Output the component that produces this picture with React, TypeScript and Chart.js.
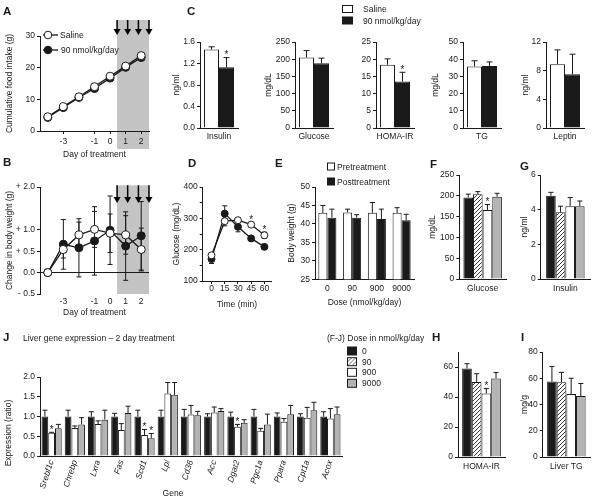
import React, { useEffect, useRef } from 'react';
import { Chart, registerables } from 'chart.js';
Chart.register(...registerables);

const FONT = "'Liberation Sans', Arial, Helvetica, sans-serif";
const FS = 8.5;
const INK = '#1a1a1a';
const GRAY = '#b4b4b4';
const SHADE = '#c4c4c4';

// ---------------- Panel A: cumulative food intake ----------------
const daysAB = [-4, -3, -2, -1, 0, 1, 2];
const dayTicks = [-3, -1, 0, 1, 2];
const doseTimes = [0.45, 1.13, 1.82, 2.5];
const treatmentWindow = [0.45, 2.5];
const foodSaline = [4.5, 7.7, 10.8, 14.0, 17.3, 20.5, 23.8];
const foodSalineErr = [0.3, 0.3, 0.4, 0.5, 0.5, 0.6, 0.6];
const food90 = [4.3, 7.4, 10.6, 13.4, 16.7, 20.1, 23.2];
const food90Err = [0.3, 0.3, 0.4, 0.5, 0.6, 0.6, 0.7];
const foodTicks = [0, 10, 20, 30];

// ---------------- Panel B: change in body weight ----------------
const bwSaline = [0, 0.54, 0.88, 1.01, 0.92, 0.88, 0.54];
const bwSalineErr = [0, 0.2, 0.3, 0.42, 0.45, 0.45, 0.5];
const bw90 = [0, 0.66, 0.58, 0.74, 0.99, 0.62, 0.86];
const bw90Err = [0, 0.58, 0.68, 0.8, 0.8, 0.8, 0.8];
const bwTicks = [-0.5, 0, 0.5, 1, 2];
const bwTickLabels = ['- 0.5', '0.0', '+ 0.5', '+ 1.0', '+ 2.0'];

// ---------------- Panel C: plasma parameters ----------------
const cMeasures = ['Insulin', 'Glucose', 'HOMA-IR', 'TG', 'Leptin'];
const cUnits = ['ng/ml', 'mg/dL', '', 'mg/dL', 'ng/ml'];
const cSaline = [1.46, 205, 18.4, 35.8, 8.9];
const cSalineErr = [0.05, 20, 1.7, 3.3, 2.0];
const cDose = [1.13, 188, 13.5, 36.1, 7.5];
const cDoseErr = [0.18, 15, 2.7, 2.3, 2.8];
const cDoseStar = [true, false, true, false, false];
const cTicks = [
  [0, 0.4, 0.8, 1.2, 1.6],
  [0, 50, 100, 150, 200, 250],
  [0, 5, 10, 15, 20, 25],
  [0, 10, 20, 30, 40, 50],
  [0, 4, 8, 12],
];

// ---------------- Panel D: glucose tolerance ----------------
const ogttTime = [0, 15, 30, 45, 60];
const ogttSaline = [182, 291, 294, 280, 246];
const ogttSalineErr = [8, 15, 8, 7, 10];
const ogttSalineStar = [false, false, false, true, true];
const ogttDose = [170, 315, 273, 236, 209];
const ogttDoseErr = [14, 25, 16, 6, 6];
const ogttXTicks = [0, 15, 30, 45, 60];
const ogttYTicks = [100, 150, 200, 250, 300, 350, 400];

// ---------------- Panel E: body weight ----------------
const doseGroups = ['0', '90', '900', '9000'];
const bwPre = [43.0, 43.1, 43.0, 43.0];
const bwPreErr = [2.0, 0.9, 2.8, 1.4];
const bwPost = [41.7, 41.7, 41.3, 41.0];
const bwPostErr = [2.3, 0.8, 2.7, 1.6];
const bwETicks = [25, 30, 35, 40, 45, 50];

// ---------------- Panels F-I: dose response ----------------
const fjDoses = ['0', '90', '900', '9000'];
const fGlucose = [196, 204, 166, 198];
const fGlucoseErr = [8, 6, 13, 8];
const fGlucoseStar = [false, false, true, false];
const fTicks = [0, 50, 100, 150, 200, 250];
const gInsulin = [4.8, 3.85, 4.2, 4.2];
const gInsulinErr = [0.2, 0.35, 0.5, 0.3];
const gTicks = [0, 2, 4, 6];
const hHoma = [59, 50, 42.3, 52.3];
const hHomaErr = [3.2, 5.5, 3.3, 4];
const hHomaStar = [false, false, true, false];
const hTicks = [0, 20, 40, 60];
const iLiverTG = [57.5, 57, 48, 46.5];
const iLiverTGErr = [11.5, 7.5, 12, 9.5];
const iTicks = [0, 20, 40, 60, 80];

// ---------------- Panel J: liver gene expression ----------------
const genes = ['Srebf1c', 'Chrebp', 'Lxra', 'Fas', 'Scd1', 'Lpl', 'Cd36', 'Acc', 'Dgat2', 'Pgc1a', 'Ppara', 'Cpt1a', 'Acox'];
const j0 = [1, 1, 1, 1, 1, 1, 1, 1, 1, 1, 1, 1, 1];
const j0Err = [0.16, 0.16, 0.12, 0.08, 0.16, 0.16, 0.18, 0.07, 0.11, 0.18, 0.09, 0.07, 0.12];
const j900 = [0.59, 0.71, 0.81, 0.66, 0.53, 1.58, 1.05, 1.1, 0.74, 0.64, 0.87, 0.97, 0.95];
const j900Err = [0.01, 0.05, 0.08, 0.16, 0.14, 0.28, 0.23, 0.14, 0.06, 0.06, 0.08, 0.26, 0.25];
const j900Star = [true, false, false, false, true, false, false, false, true, false, false, false, false];
const j9000 = [0.7, 0.8, 0.92, 1.09, 0.45, 1.55, 1.03, 1.14, 0.84, 0.8, 1.06, 1.16, 1.06];
const j9000Err = [0.1, 0.17, 0.24, 0.17, 0.12, 0.31, 0.1, 0.06, 0.08, 0.26, 0.22, 0.2, 0.18];
const j9000Star = [false, false, false, false, true, false, false, false, false, false, false, false, false];
const jTicks = [0, 0.5, 1, 1.5, 2];

// ---------------- helpers ----------------
const F = { family: FONT, size: FS };
type G = { x0: number; x1: number; y0: number; y1: number; L: number; R: number; T: number; B: number };

function boxOf(g: G) {
  return {
    left: g.x0 - g.L,
    top: g.y0 - g.T,
    w: Math.round(g.L + (g.x1 - g.x0) + g.R),
    h: Math.round(g.T + (g.y1 - g.y0) + g.B),
  };
}

function hatch(ctx: CanvasRenderingContext2D) {
  const c = document.createElement('canvas');
  c.width = 4; c.height = 4;
  const g = c.getContext('2d')!;
  g.fillStyle = '#fff'; g.fillRect(0, 0, 4, 4);
  g.strokeStyle = '#222'; g.lineWidth = 0.9;
  g.beginPath();
  g.moveTo(0, 4); g.lineTo(4, 0);
  g.moveTo(-1, 1); g.lineTo(1, -1);
  g.moveTo(3, 5); g.lineTo(5, 3);
  g.stroke();
  return ctx.createPattern(c, 'repeat');
}

function yLin(g: G, min: number, max: number, ticks: number[], fmt: (v: number) => string, title?: string) {
  return {
    type: 'linear', position: 'left', min, max,
    afterBuildTicks: (s: any) => { s.ticks = ticks.map((v) => ({ value: v })); },
    afterFit: (s: any) => { s.width = g.L; s.paddingTop = 0; s.paddingBottom = 0; },
    ticks: { color: INK, font: F, padding: 2, callback: (v: any) => fmt(Number(v)) },
    grid: { drawOnChartArea: false, drawTicks: true, tickLength: 3, color: INK, tickColor: INK },
    border: { display: true, color: INK, width: 1 },
    title: title
      ? { display: true, text: title, color: INK, font: F, padding: { top: 5, bottom: 0 } }
      : { display: false },
  };
}

function xTitle(text?: string) {
  return text
    ? { display: true, text, color: INK, font: F, padding: { top: 0, bottom: 5 } }
    : { display: false };
}

function xLin(g: G, min: number, max: number, ticks: number[], o: any) {
  return {
    type: 'linear', min, max,
    afterBuildTicks: (s: any) => { s.ticks = ticks.map((v) => ({ value: v })); },
    afterFit: (s: any) => { s.height = g.B; s.paddingLeft = 0; s.paddingRight = 0; },
    ticks: { color: INK, font: F, padding: o.pad, callback: (v: any) => String(v) },
    grid: { drawOnChartArea: false, drawTicks: o.tickLen > 0, tickLength: o.tickLen || 0, color: INK },
    border: { display: o.border !== false, color: INK, width: 1 },
    title: xTitle(o.title),
  };
}

function xCat(g: G, o: any) {
  return {
    type: 'category', offset: true,
    afterFit: (s: any) => { s.height = g.B; s.paddingLeft = 0; s.paddingRight = 0; },
    ticks: {
      color: INK,
      font: { family: FONT, size: FS, style: o.italic ? 'italic' : 'normal' },
      padding: o.pad,
      maxRotation: o.rot || 0, minRotation: o.rot || 0, autoSkip: false,
    },
    grid: { display: false, drawTicks: false },
    border: { display: true, color: INK, width: 1 },
    title: xTitle(o.title),
  };
}

function baseOptions(g: G, scales: any, plugins: any = {}) {
  return {
    responsive: false,
    animation: false,
    devicePixelRatio: 1,
    events: [],
    layout: { padding: { left: 0, right: g.R, top: g.T, bottom: 0 } },
    plugins: { legend: { display: false }, tooltip: { enabled: false }, ...plugins },
    scales,
  };
}

function drawErr(chart: any, mode: string) {
  const { ctx } = chart;
  chart.data.datasets.forEach((ds: any, i: number) => {
    if (!ds.errors || (ds.errMode || 'up') !== mode) return;
    const meta = chart.getDatasetMeta(i);
    const ys = chart.scales[meta.yAxisID];
    ctx.save();
    ctx.strokeStyle = INK;
    ctx.lineWidth = 1;
    meta.data.forEach((el: any, j: number) => {
      const e = ds.errors[j];
      if (!e) return;
      const d = ds.data[j];
      const v = typeof d === 'number' ? d : d.y;
      const x = el.x;
      const yTop = ys.getPixelForValue(v + e);
      const yBot = mode === 'both' ? ys.getPixelForValue(v - e) : el.y;
      const cap = ds.cap ?? 3;
      ctx.beginPath();
      ctx.moveTo(x, yTop); ctx.lineTo(x, yBot);
      ctx.moveTo(x - cap, yTop); ctx.lineTo(x + cap, yTop);
      if (mode === 'both') { ctx.moveTo(x - cap, yBot); ctx.lineTo(x + cap, yBot); }
      ctx.stroke();
    });
    ctx.restore();
  });
}

function drawStars(chart: any) {
  const { ctx } = chart;
  chart.data.datasets.forEach((ds: any, i: number) => {
    if (!ds.stars) return;
    const meta = chart.getDatasetMeta(i);
    const ys = chart.scales[meta.yAxisID];
    meta.data.forEach((el: any, j: number) => {
      if (!ds.stars[j]) return;
      const d = ds.data[j];
      const v = typeof d === 'number' ? d : d.y;
      const top = ys.getPixelForValue(v + ((ds.errors && ds.errors[j]) || 0));
      ctx.save();
      ctx.fillStyle = INK;
      ctx.font = `10px ${FONT}`;
      ctx.textAlign = 'center';
      ctx.textBaseline = 'alphabetic';
      ctx.fillText('*', el.x, top + 0.5);
      ctx.restore();
    });
  });
}

const errPlugin = {
  id: 'errbars',
  beforeDatasetsDraw(chart: any) { drawErr(chart, 'both'); },
  afterDatasetsDraw(chart: any) { drawErr(chart, 'up'); drawStars(chart); },
};

const shadePlugin = {
  id: 'shade',
  beforeDraw(chart: any, _a: any, o: any) {
    if (!o || !o.on) return;
    const xs = chart.scales.x;
    const a = chart.chartArea;
    const ctx = chart.ctx;
    const l = xs.getPixelForValue(o.from);
    const r = xs.getPixelForValue(o.to);
    ctx.save();
    ctx.fillStyle = SHADE;
    ctx.fillRect(l, a.top + o.top, r - l, a.bottom + o.bottom - (a.top + o.top));
    ctx.strokeStyle = '#000';
    ctx.fillStyle = '#000';
    ctx.lineWidth = 1.5;
    o.arrows.forEach((v: number) => {
      const x = xs.getPixelForValue(v);
      const y1 = a.top + o.aTop;
      const y2 = a.top + o.aTip;
      ctx.beginPath(); ctx.moveTo(x, y1); ctx.lineTo(x, y2 - 5); ctx.stroke();
      ctx.beginPath(); ctx.moveTo(x - 3.5, y2 - 6); ctx.lineTo(x + 3.5, y2 - 6); ctx.lineTo(x, y2); ctx.closePath(); ctx.fill();
    });
    ctx.restore();
  },
};

function pts(xs: number[], ys: number[]) {
  return xs.map((x, i) => ({ x, y: ys[i] }));
}

function lineDs(xs: number[], ys: number[], err: number[], filled: boolean, extra: any = {}) {
  return {
    data: pts(xs, ys),
    borderColor: INK,
    borderWidth: 1.3,
    pointRadius: 4,
    pointBorderWidth: 1,
    pointBorderColor: INK,
    pointBackgroundColor: filled ? INK : '#fff',
    errors: err,
    errMode: 'both',
    cap: 2.5,
    ...extra,
  };
}

function barDs(values: number[], err: number[], fill: any, extra: any = {}) {
  return {
    data: values,
    backgroundColor: fill,
    borderColor: INK,
    borderWidth: 1,
    barPercentage: 1,
    errors: err,
    errMode: 'up',
    cap: 3,
    ...extra,
  };
}

const fmtInt = (v: number) => String(v);
const fmt1 = (v: number) => v.toFixed(1);

// ---------------- chart specs ----------------
type Spec = { g: G; make: (ctx: CanvasRenderingContext2D) => any };

const gA: G = { x0: 40, x1: 150, y0: 36, y1: 131, L: 40, R: 4, T: 22, B: 34 };
const gB: G = { x0: 40, x1: 150, y0: 186.7, y1: 294, L: 40, R: 4, T: 16, B: 29 };
const gD: G = { x0: 202.7, x1: 271.7, y0: 186.7, y1: 281, L: 35.7, R: 4, T: 6, B: 34 };
const gE: G = { x0: 315, x1: 414, y0: 186.7, y1: 279.3, L: 33, R: 4, T: 6, B: 33.7 };
const gF: G = { x0: 459.3, x1: 506, y0: 175, y1: 279.3, L: 36.3, R: 2, T: 6, B: 16 };
const gG: G = { x0: 540.7, x1: 590, y0: 175, y1: 279, L: 25.7, R: 2, T: 6, B: 16 };
const gH: G = { x0: 458.3, x1: 505, y0: 351.7, y1: 456.7, L: 30, R: 2, T: 6, B: 16 };
const gI: G = { x0: 542.7, x1: 590, y0: 351.7, y1: 456.7, L: 27.7, R: 2, T: 6, B: 16 };
const gJ: G = { x0: 40, x1: 341.7, y0: 376.7, y1: 456, L: 30, R: 4, T: 6, B: 40 };
const gC: G[] = [
  { x0: 200, x1: 238, y0: 41.7, y1: 127.7, L: 33, R: 2, T: 6, B: 20 },
  { x0: 295, x1: 333, y0: 41.7, y1: 127.7, L: 36, R: 2, T: 6, B: 20 },
  { x0: 376, x1: 414, y0: 41.7, y1: 127.7, L: 30, R: 2, T: 6, B: 20 },
  { x0: 463, x1: 501, y0: 41.7, y1: 127.7, L: 37, R: 2, T: 6, B: 20 },
  { x0: 546, x1: 584, y0: 41.7, y1: 127.7, L: 30, R: 2, T: 6, B: 20 },
];

function doseSub(g: G, label: string, vals: number[], err: number[], stars: boolean[] | null, ticks: number[], max: number, unit?: string): Spec {
  return {
    g,
    make: (ctx) => ({
      type: 'bar',
      data: {
        labels: [label],
        datasets: fjDoses.map((d, k) => barDs([vals[k]], [err[k]], [INK, hatch(ctx), '#fff', GRAY][k], {
          label: d, categoryPercentage: 38.5 / (g.x1 - g.x0), stars: stars ? [stars[k]] : null, cap: 2.5,
        })),
      },
      options: baseOptions(g, {
        x: xCat(g, { pad: 5 }),
        y: yLin(g, 0, max, ticks, fmtInt, unit),
      }),
      plugins: [errPlugin],
    }),
  };
}

const specs: Spec[] = [
  {
    g: gA,
    make: () => ({
      type: 'line',
      data: {
        datasets: [
          lineDs(daysAB, foodSaline, foodSalineErr, false, { label: 'Saline' }),
          lineDs(daysAB, food90, food90Err, true, { label: '90 nmol/kg/day' }),
        ],
      },
      options: baseOptions(gA, {
        x: xLin(gA, -4.5, 2.5, dayTicks, { tickLen: 3, pad: 3, title: 'Day of treatment' }),
        y: yLin(gA, 0, 30, foodTicks, fmtInt, 'Cumulative food intake (g)'),
      }, {
        shade: { on: true, from: treatmentWindow[0], to: treatmentWindow[1], top: -16, bottom: 18, arrows: doseTimes, aTop: -16, aTip: -1 },
      }),
      plugins: [shadePlugin, errPlugin],
    }),
  },
  {
    g: gB,
    make: () => {
      const y: any = yLin(gB, -0.5, 2, bwTicks, (v) => bwTickLabels[bwTicks.indexOf(v)] ?? '', 'Change in body weight (g)');
      y.grid = {
        drawOnChartArea: true, drawTicks: true, tickLength: 3, tickColor: INK,
        color: (c: any) => (c.tick && c.tick.value === 0 ? INK : 'rgba(0,0,0,0)'),
      };
      return {
        type: 'line',
        data: {
          datasets: [
            lineDs(daysAB, bwSaline, bwSalineErr, false, { label: 'Saline' }),
            lineDs(daysAB, bw90, bw90Err, true, { label: '90 nmol/kg/day' }),
          ],
        },
        options: baseOptions(gB, {
          x: xLin(gB, -4.5, 2.5, dayTicks, { tickLen: 0, pad: 3, title: 'Day of treatment', border: false }),
          y,
        }, {
          shade: { on: true, from: treatmentWindow[0], to: treatmentWindow[1], top: -1.7, bottom: 0, arrows: doseTimes, aTop: -1.7, aTip: 16 },
        }),
        plugins: [shadePlugin, errPlugin],
      };
    },
  },
  ...cMeasures.map((m, k): Spec => ({
    g: gC[k],
    make: () => ({
      type: 'bar',
      data: {
        labels: [m],
        datasets: [
          barDs([cSaline[k]], [cSalineErr[k]], '#fff', { label: 'Saline', categoryPercentage: 30 / 38 }),
          barDs([cDose[k]], [cDoseErr[k]], INK, { label: '90 nmol/kg/day', categoryPercentage: 30 / 38, stars: [cDoseStar[k]] }),
        ],
      },
      options: baseOptions(gC[k], {
        x: xCat(gC[k], { pad: 4 }),
        y: yLin(gC[k], 0, cTicks[k][cTicks[k].length - 1], cTicks[k], k === 0 ? fmt1 : fmtInt, cUnits[k] || undefined),
      }),
      plugins: [errPlugin],
    }),
  })),
  {
    g: gD,
    make: () => ({
      type: 'line',
      data: {
        datasets: [
          lineDs(ogttTime, ogttSaline, ogttSalineErr, false, { label: 'Saline', pointRadius: 3.5, stars: ogttSalineStar }),
          lineDs(ogttTime, ogttDose, ogttDoseErr, true, { label: '90 nmol/kg/day', pointRadius: 3.5 }),
        ],
      },
      options: baseOptions(gD, {
        x: xLin(gD, -10, 67.5, ogttXTicks, { tickLen: 3, pad: 0, title: 'Time (min)' }),
        y: yLin(gD, 100, 400, ogttYTicks, (v) => (v % 100 === 0 ? String(v) : ''), 'Glucose (mg/dL)'),
      }),
      plugins: [errPlugin],
    }),
  },
  {
    g: gE,
    make: () => ({
      type: 'bar',
      data: {
        labels: doseGroups,
        datasets: [
          barDs(bwPre, bwPreErr, '#fff', { label: 'Pretreatment', categoryPercentage: 0.73, cap: 2.5 }),
          barDs(bwPost, bwPostErr, INK, { label: 'Posttreatment', categoryPercentage: 0.73, cap: 2.5 }),
        ],
      },
      options: baseOptions(gE, {
        x: xCat(gE, { pad: 4, title: 'Dose (nmol/kg/day)' }),
        y: yLin(gE, 25, 50, bwETicks, fmtInt, 'Body weight (g)'),
      }),
      plugins: [errPlugin],
    }),
  },
  doseSub(gF, 'Glucose', fGlucose, fGlucoseErr, fGlucoseStar, fTicks, 250, 'mg/dL'),
  doseSub(gG, 'Insulin', gInsulin, gInsulinErr, null, gTicks, 6, 'ng/ml'),
  doseSub(gH, 'HOMA-IR', hHoma, hHomaErr, hHomaStar, hTicks, 70),
  doseSub(gI, 'Liver TG', iLiverTG, iLiverTGErr, null, iTicks, 80, 'mg/g'),
  {
    g: gJ,
    make: () => ({
      type: 'bar',
      data: {
        labels: genes,
        datasets: [
          barDs(j0, j0Err, INK, { label: '0', categoryPercentage: 0.87, cap: 2.5 }),
          barDs(j900, j900Err, '#fff', { label: '900', categoryPercentage: 0.87, cap: 2.5, stars: j900Star }),
          barDs(j9000, j9000Err, GRAY, { label: '9000', categoryPercentage: 0.87, cap: 2.5, stars: j9000Star }),
        ],
      },
      options: baseOptions(gJ, {
        x: xCat(gJ, { pad: 3, rot: 72, italic: true }),
        y: yLin(gJ, 0, 2, jTicks, fmt1),
      }),
      plugins: [errPlugin],
    }),
  },
];

function ChartBox({ spec }: { spec: Spec }) {
  const ref = useRef<HTMLCanvasElement>(null);
  const b = boxOf(spec.g);
  useEffect(() => {
    const cv = ref.current!;
    const chart = new Chart(cv, spec.make(cv.getContext('2d')!));
    return () => chart.destroy();
  }, []);
  return (
    <canvas
      ref={ref}
      width={b.w}
      height={b.h}
      style={{ position: 'absolute', left: b.left, top: b.top, width: b.w, height: b.h, display: 'block' }}
    />
  );
}

function Txt({ x, y, children, bold, size, anchor }: any) {
  return (
    <div
      style={{
        position: 'absolute', left: x, top: y, whiteSpace: 'nowrap', lineHeight: 1,
        fontSize: size || FS, fontWeight: bold ? 'bold' : 'normal', fontFamily: FONT, color: INK,
        transform: anchor === 'center' ? 'translate(-50%, -50%)' : 'translateY(-50%)',
      }}
    >
      {children}
    </div>
  );
}

const panelLetters: [string, number, number][] = [
  ['A', 3, 12], ['B', 3, 163], ['C', 187, 12], ['D', 188, 164], ['E', 275, 164],
  ['F', 430, 165], ['G', 520, 167], ['H', 432, 338], ['I', 521, 338], ['J', 3, 338],
];

export default function App() {
  return (
    <div style={{ position: 'absolute', left: 0, top: 0, width: 600, height: 502, background: '#fff', overflow: 'hidden' }}>
      {specs.map((s, i) => <ChartBox key={i} spec={s} />)}
      <svg width={600} height={502} style={{ position: 'absolute', left: 0, top: 0, pointerEvents: 'none' }}>
        <defs>
          <pattern id="hatch" width="3" height="3" patternUnits="userSpaceOnUse" patternTransform="rotate(45)">
            <rect width="3" height="3" fill="#fff" />
            <line x1="0" y1="0" x2="0" y2="3" stroke="#222" strokeWidth="1" />
          </pattern>
        </defs>
        {/* A legend */}
        <line x1={43} y1={35} x2={58} y2={35} stroke={INK} strokeWidth={1.3} />
        <circle cx={48} cy={35} r={3.8} fill="#fff" stroke={INK} strokeWidth={1} />
        <line x1={43} y1={50} x2={58} y2={50} stroke={INK} strokeWidth={1.3} />
        <circle cx={48} cy={50} r={3.8} fill={INK} stroke={INK} strokeWidth={1} />
        {/* C legend */}
        <rect x={342.5} y={5.5} width={10} height={7} fill="#fff" stroke={INK} strokeWidth={1} />
        <rect x={342.5} y={17} width={10} height={7} fill={INK} stroke={INK} strokeWidth={1} />
        {/* E legend */}
        <rect x={327.5} y={163} width={7} height={7} fill="#fff" stroke={INK} strokeWidth={1} />
        <rect x={327.5} y={178} width={7} height={7} fill={INK} stroke={INK} strokeWidth={1} />
        {/* J legend */}
        <rect x={347.5} y={347} width={9} height={8} fill={INK} stroke={INK} strokeWidth={1} />
        <rect x={347.5} y={357.7} width={9} height={8} fill="url(#hatch)" stroke={INK} strokeWidth={1} />
        <rect x={347.5} y={368.3} width={9} height={8} fill="#fff" stroke={INK} strokeWidth={1} />
        <rect x={347.5} y={379.3} width={9} height={8} fill={GRAY} stroke={INK} strokeWidth={1} />
      </svg>
      {panelLetters.map(([t, x, y]) => (
        <Txt key={t} x={x} y={y} bold size={11.5}>{t}</Txt>
      ))}
      <Txt x={60} y={35}>Saline</Txt>
      <Txt x={61} y={50}>90 nmol/kg/day</Txt>
      <Txt x={363} y={9}>Saline</Txt>
      <Txt x={363} y={20.5}>90 nmol/kg/day</Txt>
      <Txt x={337} y={166.5}>Pretreatment</Txt>
      <Txt x={337} y={181.5}>Posttreatment</Txt>
      <Txt x={23} y={338}>Liver gene expression – 2 day treatment</Txt>
      <Txt x={327} y={338}>(F-J) Dose in nmol/kg/day</Txt>
      <Txt x={362} y={351}>0</Txt>
      <Txt x={362} y={361.7}>90</Txt>
      <Txt x={362} y={372.3}>900</Txt>
      <Txt x={362} y={383.3}>9000</Txt>
      <Txt x={173} y={493} anchor="center">Gene</Txt>
      <div
        style={{
          position: 'absolute', left: 8, top: 433, whiteSpace: 'nowrap', lineHeight: 1,
          fontSize: FS, fontFamily: FONT, color: INK, transform: 'translate(-50%, -50%) rotate(-90deg)',
        }}
      >
        Expression (ratio)
      </div>
    </div>
  );
}
